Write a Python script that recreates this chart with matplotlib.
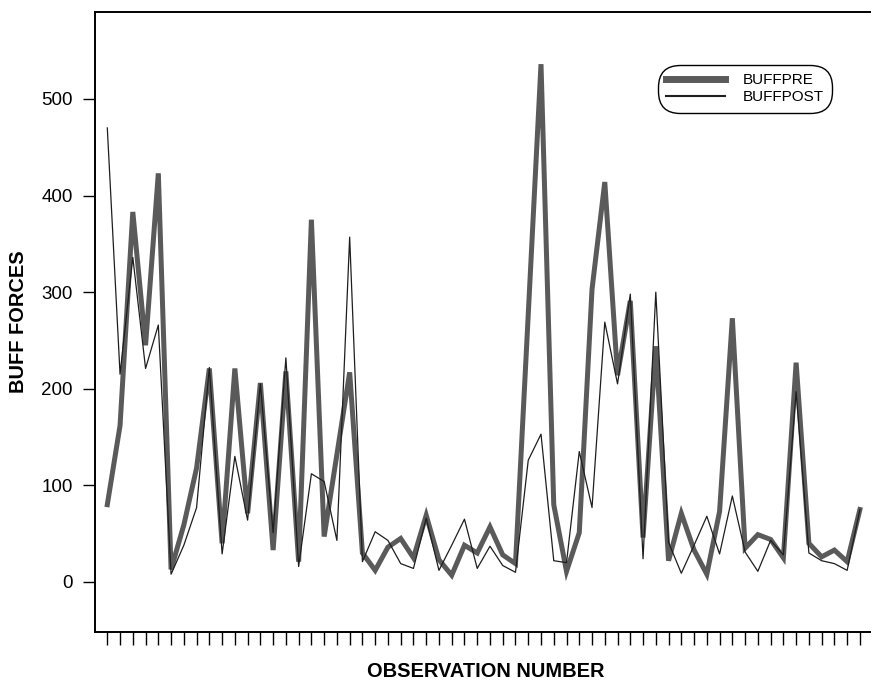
import matplotlib
matplotlib.use("Agg")
import matplotlib.pyplot as plt
import numpy as np

plt.rcParams['font.family'] = ['Liberation Sans', 'DejaVu Sans']

observation = list(range(1, 61))
buffpre = [80, 162, 383, 245, 423, 13, 59, 118, 221, 40,
           221, 71, 206, 33, 218, 21, 375, 47, 132, 217,
           30, 12, 36, 45, 25, 69, 23, 7, 38, 30,
           57, 28, 19, 277, 536, 80, 11, 51, 303, 414,
           214, 291, 46, 244, 22, 71, 33, 8, 73, 273,
           35, 49, 44, 25, 227, 40, 26, 33, 21, 75]
buffpost = [470, 215, 336, 221, 266, 8, 38, 77, 222, 29,
            130, 64, 205, 51, 232, 16, 112, 104, 43, 357,
            21, 52, 43, 19, 14, 66, 12, 38, 65, 14,
            37, 17, 10, 126, 153, 22, 20, 135, 77, 269,
            205, 298, 24, 300, 41, 9, 38, 68, 29, 89,
            31, 11, 43, 28, 197, 30, 22, 19, 12, 75]
yticks = [0, 100, 200, 300, 400, 500]

fig = plt.figure(figsize=(8.71, 6.87), dpi=100)
ax = fig.add_axes([95/871, 55/687, 776/871, 620/687])

ax.plot(observation, buffpre, color='#5a5a5a', lw=3.6, label='BUFFPRE',
        solid_joinstyle='miter', zorder=2)
ax.plot(observation, buffpost, color='#1e1e1e', lw=0.9, label='BUFFPOST',
        zorder=3)

ax.set_xlim(0.036, 60.87)
ax.set_ylim(-51.8, 590)
ax.set_xticks(observation)
ax.set_xticklabels([])
ax.set_yticks(yticks)
ax.set_yticklabels([str(v) for v in yticks], fontsize=13.5)

for s in ['left', 'bottom', 'top']:
    ax.spines[s].set_linewidth(1.4)
    ax.spines[s].set_color('black')
ax.spines['right'].set_visible(False)

ax.tick_params(axis='y', direction='out', length=8.6, width=1.0, pad=7.5)
ax.tick_params(axis='x', direction='out', length=9.4, width=1.0)

ax.set_ylabel('BUFF FORCES', fontsize=14.4, fontweight='bold')
ax.yaxis.set_label_coords(-0.098, 0.5)
ax.set_xlabel('OBSERVATION NUMBER', fontsize=14.4, fontweight='bold')
ax.xaxis.set_label_coords(0.504, -0.0645)
ax.xaxis.label.set_va('center')
ax.yaxis.label.set_va('center')

leg = ax.legend(loc='upper right', bbox_to_anchor=(0.950, 0.9145),
                bbox_transform=ax.transAxes, borderaxespad=0,
                fontsize=11, handlelength=3.85, handletextpad=1.15,
                labelspacing=0.2, borderpad=0.55, fancybox=True,
                framealpha=1, edgecolor='black')
leg.get_lines()[0].set_linewidth(5.0)
leg.get_lines()[1].set_linewidth(1.5)
frame = leg.get_frame()
frame.set_boxstyle('round', pad=0, rounding_size=1.45)
frame.set_linewidth(1.0)

fig.savefig('out.png', dpi=100)
